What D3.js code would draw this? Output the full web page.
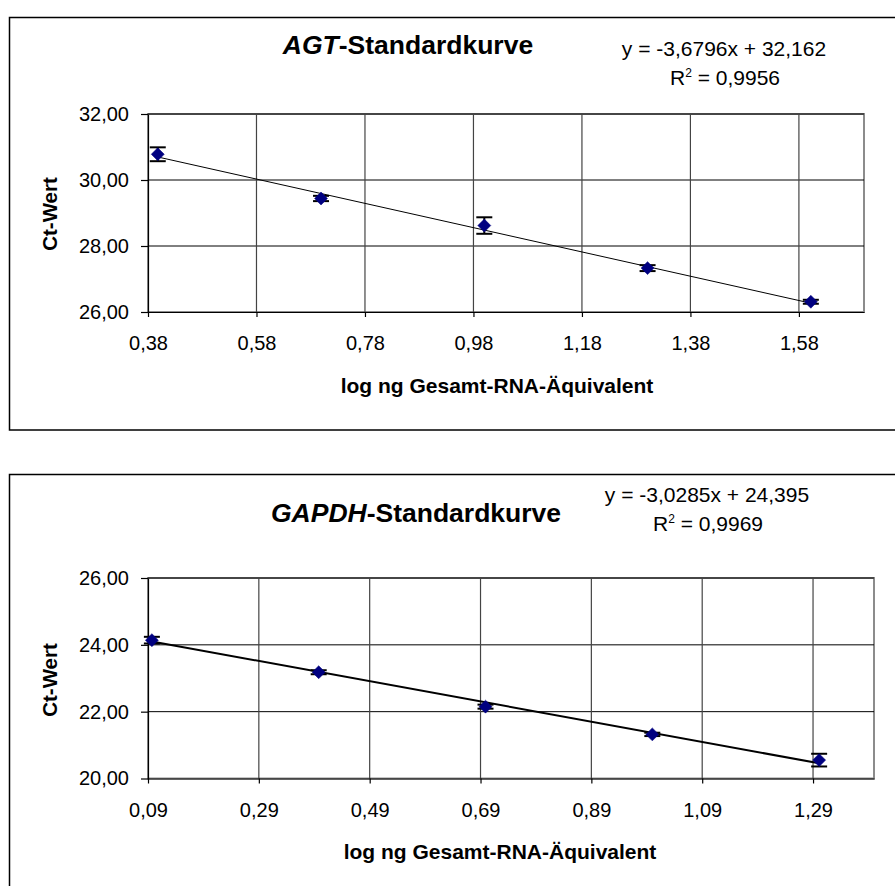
<!DOCTYPE html>
<html>
<head>
<meta charset="utf-8">
<title>Standardkurven</title>
<script src="https://d3js.org/d3.v7.min.js"></script>
<style>
  body { margin: 0; background: #fff; }
  svg { display: block; font-family: "Liberation Sans", Arial, sans-serif; }
</style>
</head>
<body>
<svg id="chart" width="895" height="886"></svg>
<script>
// AGT standard curve (log ng total RNA equivalent vs. Ct)
const agtX = [0.398, 0.699, 1.000, 1.301, 1.602];
const agtY = [30.78, 29.44, 28.62, 27.33, 26.31];
const agtErr = [0.21, 0.08, 0.25, 0.09, 0.06];
const agtXTicks = [0.38, 0.58, 0.78, 0.98, 1.18, 1.38, 1.58];
const agtYTicks = [26, 28, 30, 32];
const agtFit = { slope: -3.6796, intercept: 32.162, r2: "0,9956", eq: "y = -3,6796x + 32,162" };

// GAPDH standard curve
const gapdhX = [0.097, 0.398, 0.699, 1.000, 1.301];
const gapdhY = [24.14, 23.18, 22.15, 21.32, 20.55];
const gapdhErr = [0.10, 0.06, 0.06, 0.05, 0.19];
const gapdhXTicks = [0.09, 0.29, 0.49, 0.69, 0.89, 1.09, 1.29];
const gapdhYTicks = [20, 22, 24, 26];
const gapdhFit = { slope: -3.0285, intercept: 24.395, r2: "0,9969", eq: "y = -3,0285x + 24,395" };

const xTitle = "log ng Gesamt-RNA-Äquivalent";
const yTitle = "Ct-Wert";

const svg = d3.select("#chart");
const fmt = d => d.toFixed(2).replace(".", ",");

function drawChart(c) {
    const g = svg.append("g");

    // outer chart frame (runs off the right edge like the original)
    g.append("rect")
        .attr("x", c.box[0]).attr("y", c.box[1])
        .attr("width", c.box[2]).attr("height", c.box[3])
        .attr("fill", "none").attr("stroke", "#000").attr("stroke-width", 1.5);

    const x = d3.scaleLinear().domain(c.xDomain).range([c.left, c.right]);
    const y = d3.scaleLinear().domain(c.yDomain).range([c.bottom, c.top]);

    // plot area border
    g.append("rect")
        .attr("x", c.left).attr("y", c.top)
        .attr("width", c.right - c.left).attr("height", c.bottom - c.top)
        .attr("fill", "none").attr("stroke", "#8c8c8c").attr("stroke-width", 2);

    // grid
    g.append("g").selectAll("line").data(c.yTicks.slice(1)).join("line")
        .attr("x1", c.left).attr("x2", c.right)
        .attr("y1", d => y(d)).attr("y2", d => y(d))
        .attr("stroke", "#000").attr("stroke-width", 1);
    g.append("g").selectAll("line").data(c.xTicks.slice(1)).join("line")
        .attr("x1", d => x(d)).attr("x2", d => x(d))
        .attr("y1", c.top).attr("y2", c.bottom)
        .attr("stroke", "#444").attr("stroke-width", 1.2);

    // axes
    const ya = g.append("g").attr("transform", `translate(${c.left},0)`)
        .call(d3.axisLeft(y).tickValues(c.yTicks).tickFormat(fmt)
            .tickSize(7).tickSizeOuter(0).tickPadding(12));
    const xa = g.append("g").attr("transform", `translate(0,${c.bottom})`)
        .call(d3.axisBottom(x).tickValues(c.xTicks).tickFormat(fmt)
            .tickSize(5).tickSizeOuter(0).tickPadding(19));
    [ya, xa].forEach(a => {
        a.selectAll("text").attr("font-size", 20).attr("fill", "#000")
            .attr("font-family", "Liberation Sans, Arial, sans-serif");
        a.selectAll("line, path").attr("stroke", "#000").attr("stroke-width", 1.2);
    });

    // trendline over the data range
    const x0 = d3.min(c.xs), x1 = d3.max(c.xs);
    g.append("line")
        .attr("x1", x(x0)).attr("y1", y(c.fit.slope * x0 + c.fit.intercept))
        .attr("x2", x(x1)).attr("y2", y(c.fit.slope * x1 + c.fit.intercept))
        .attr("stroke", "#000").attr("stroke-width", c.fitWidth);

    const pts = c.xs.map((v, i) => ({ x: v, y: c.ys[i], e: c.errs[i] }));

    // error bars
    const eb = g.append("g").attr("stroke", "#000").attr("stroke-width", 2);
    pts.forEach(p => {
        const px = x(p.x), hi = y(p.y + p.e), lo = y(p.y - p.e);
        eb.append("line").attr("x1", px).attr("x2", px).attr("y1", hi).attr("y2", lo);
        eb.append("line").attr("x1", px - 8).attr("x2", px + 8).attr("y1", hi).attr("y2", hi);
        eb.append("line").attr("x1", px - 8).attr("x2", px + 8).attr("y1", lo).attr("y2", lo);
    });

    // diamond markers
    g.append("g").selectAll("path").data(pts).join("path")
        .attr("d", d3.symbol(d3.symbolSquare, 84))
        .attr("transform", d => `translate(${x(d.x)},${y(d.y)}) rotate(45)`)
        .attr("fill", "#000080").attr("stroke", "#000080").attr("stroke-width", 0.5);

    // title
    const t = g.append("text")
        .attr("x", c.titlePos[0]).attr("y", c.titlePos[1])
        .attr("text-anchor", "middle").attr("font-size", 26.5).attr("font-weight", "bold");
    t.append("tspan").attr("font-style", "italic").text(c.gene);
    t.append("tspan").text("-Standardkurve");

    // equation and R²
    g.append("text")
        .attr("x", c.eqPos[0]).attr("y", c.eqPos[1])
        .attr("text-anchor", "middle").attr("font-size", 21)
        .text(c.fit.eq);
    const r = g.append("text")
        .attr("x", c.eqPos[0] + 1).attr("y", c.eqPos[1] + 29)
        .attr("text-anchor", "middle").attr("font-size", 21);
    r.append("tspan").text("R");
    r.append("tspan").attr("font-size", 12).attr("dy", -8).text("2");
    r.append("tspan").attr("dy", 8).text(" = " + c.fit.r2);

    // axis titles
    g.append("text")
        .attr("x", c.xTitlePos[0]).attr("y", c.xTitlePos[1])
        .attr("text-anchor", "middle").attr("font-size", 21).attr("font-weight", "bold")
        .text(xTitle);
    g.append("text")
        .attr("transform", `translate(${c.yTitlePos[0]},${c.yTitlePos[1]}) rotate(-90)`)
        .attr("text-anchor", "middle").attr("font-size", 20.5).attr("font-weight", "bold")
        .text(yTitle);
}

drawChart({
    gene: "AGT", xs: agtX, ys: agtY, errs: agtErr, fit: agtFit,
    xTicks: agtXTicks, yTicks: agtYTicks,
    xDomain: [0.38, 1.70], yDomain: [26, 32],
    box: [9.5, 17.5, 1000, 412.5],
    left: 148, right: 864, top: 114, bottom: 312,
    fitWidth: 1,
    titlePos: [408, 54], eqPos: [724, 56],
    xTitlePos: [497, 393], yTitlePos: [57, 214]
});

drawChart({
    gene: "GAPDH", xs: gapdhX, ys: gapdhY, errs: gapdhErr, fit: gapdhFit,
    xTicks: gapdhXTicks, yTicks: gapdhYTicks,
    xDomain: [0.09, 1.40], yDomain: [20, 26],
    box: [9.5, 474.5, 1000, 500],
    left: 148, right: 874, top: 578, bottom: 778.5,
    fitWidth: 2,
    titlePos: [416, 522], eqPos: [707, 502],
    xTitlePos: [500, 859], yTitlePos: [57, 680]
});
</script>
</body>
</html>
